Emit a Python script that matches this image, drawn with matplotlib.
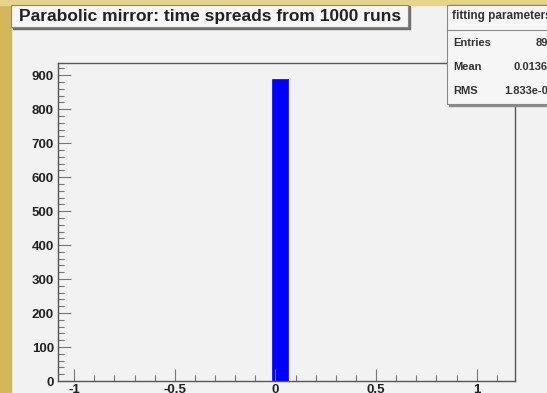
import matplotlib
matplotlib.use("Agg")
import matplotlib.pyplot as plt
from matplotlib.patches import Rectangle
from matplotlib.ticker import MultipleLocator

# histogram content
bin_edges = [-0.015, 0.06]
bin_counts = [890]
title = "Parabolic mirror: time spreads from 1000 runs"
stats_header = "fitting parameters"
stats_rows = [("Entries", "890"), ("Mean", "0.01364"), ("RMS", "1.833e-05")]

W, H = 547, 393
fig = plt.figure(figsize=(W / 100, H / 100), dpi=100)
fig.patch.set_facecolor("#f2f2f2")

# gold frame pieces around the cropped canvas
fig.add_artist(Rectangle((0, 0), 11 / W, 1, transform=fig.transFigure,
                         color="#d3b75a", zorder=0))
fig.add_artist(Rectangle((0, 1 - 5 / H), 1, 5 / H, transform=fig.transFigure,
                         color="#e6d488", zorder=0))

ax = fig.add_axes([58 / W, 12 / H, (515 - 58) / W, (381 - 63.5) / H])
ax.set_facecolor("#f2f2f2")
ax.bar(bin_edges[0], bin_counts[0], width=bin_edges[1] - bin_edges[0],
       align="edge", color="#0000ff", edgecolor="#0000ff", linewidth=0.5)
ax.set_xlim(-1.08, 1.19)
ax.set_ylim(0, 1.05 * max(bin_counts))

ax.xaxis.set_major_locator(MultipleLocator(0.5))
ax.xaxis.set_minor_locator(MultipleLocator(0.1))
ax.yaxis.set_major_locator(MultipleLocator(100))
ax.yaxis.set_minor_locator(MultipleLocator(20))
ax.set_xticks([-1, -0.5, 0, 0.5, 1])
ax.set_xticklabels(["-1", "-0.5", "0", "0.5", "1"])
ax.tick_params(which="both", direction="in", color="#777777",
               top=False, right=False, labelsize=9.5, labelcolor="#222222")
ax.tick_params(which="major", length=9, width=0.8, pad=3)
ax.tick_params(axis="x", which="major", pad=2)
ax.tick_params(which="minor", length=4.5, width=0.8)
for lab in ax.get_xticklabels() + ax.get_yticklabels():
    lab.set_fontfamily("Liberation Sans")
    lab.set_fontweight("bold")
for s in ax.spines.values():
    s.set_color("#555555")
    s.set_linewidth(1.0)

# title box with shadow
fig.add_artist(Rectangle((13 / W, 1 - 29 / H), 397 / W, 23 / H,
                         transform=fig.transFigure, color="#6f6f6f", zorder=3))
fig.add_artist(Rectangle((11 / W, 1 - 27 / H), 397 / W, 22 / H,
                         transform=fig.transFigure, facecolor="#f6f6f6",
                         edgecolor="#888888", linewidth=0.8, zorder=4))
fig.text(19 / W, 1 - 16 / H, title, ha="left", va="center", fontsize=12.5,
         fontweight="bold", family="Liberation Sans", color="#222222", zorder=5)

# stats box (cut at the right edge)
fig.add_artist(Rectangle((449 / W, 1 - 106 / H), 110 / W, 101 / H,
                         transform=fig.transFigure, color="#8a8a8a", zorder=3))
fig.add_artist(Rectangle((447 / W, 1 - 104 / H), 110 / W, 99 / H,
                         transform=fig.transFigure, facecolor="#f6f6f6",
                         edgecolor="#888888", linewidth=0.8, zorder=4))
fig.add_artist(plt.Line2D([447 / W, 1], [1 - 30 / H, 1 - 30 / H],
                          transform=fig.transFigure, color="#888888",
                          linewidth=0.8, zorder=5))
fig.text(452 / W, 1 - 16 / H, stats_header, ha="left", va="center",
         fontsize=8.5, fontweight="bold", family="Liberation Sans",
         color="#333333", zorder=6)
for (name, val), y in zip(stats_rows, [43, 67, 91]):
    fig.text(453 / W, 1 - y / H, name, ha="left", va="center", fontsize=8,
             fontweight="bold", family="Liberation Sans", color="#333333", zorder=6)
    fig.text(554 / W, 1 - y / H, val, ha="right", va="center", fontsize=8,
             fontweight="bold", family="Liberation Sans", color="#333333", zorder=6)

fig.savefig("out.png", dpi=100, facecolor=fig.get_facecolor())
